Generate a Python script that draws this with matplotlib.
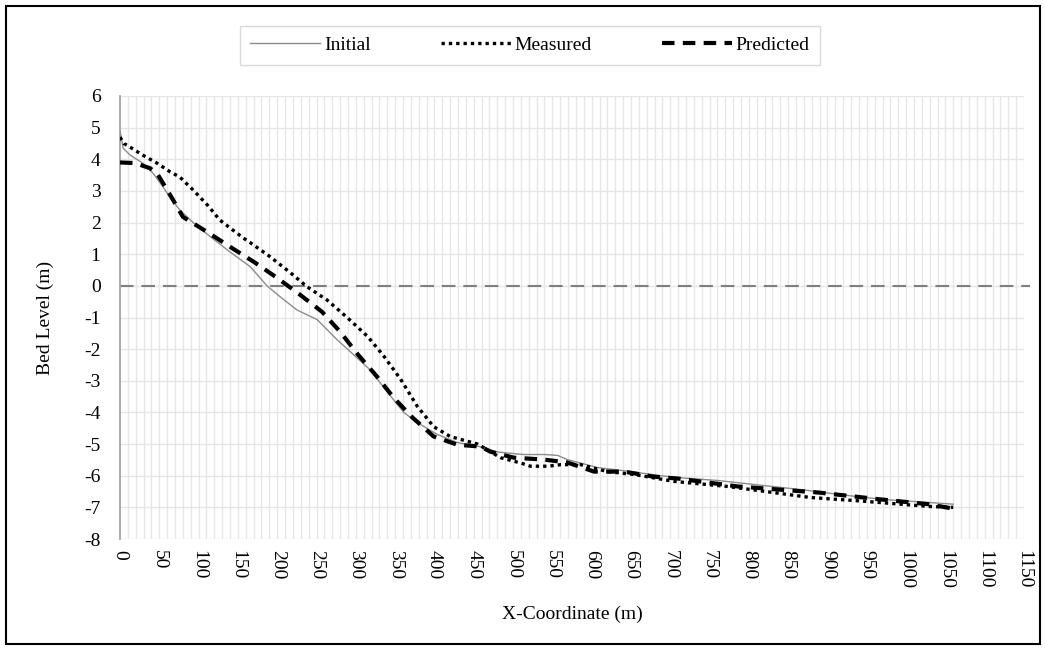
import matplotlib
matplotlib.use("Agg")
import matplotlib.pyplot as plt
from matplotlib.patches import Rectangle
from matplotlib.ticker import MultipleLocator

plt.rcParams['font.family'] = ['Liberation Serif', 'DejaVu Serif']
plt.rcParams['axes.unicode_minus'] = False

# ---------------- data ----------------
initial_x = [0, 4, 13, 29, 42, 55, 64, 76, 93, 115, 140, 166, 187, 204, 225, 251, 276,
             293, 318, 335, 348, 361, 378, 404, 429, 462, 480, 513, 540, 557, 569, 607,
             650, 688, 710, 760, 815, 870, 917, 970, 1020, 1060]
initial_y = [4.9, 4.35, 4.13, 3.88, 3.56, 3.12, 2.78, 2.4, 2.0, 1.55, 1.07, 0.6, 0.0, -0.35,
             -0.76, -1.07, -1.7, -2.08, -2.65, -3.19, -3.6, -4.0, -4.32, -4.7, -4.95, -5.1,
             -5.25, -5.33, -5.33, -5.36, -5.49, -5.74, -5.87, -6.0, -6.06, -6.15, -6.3,
             -6.45, -6.6, -6.75, -6.83, -6.9]

measured_x = [0, 5, 15, 29, 47, 64, 76, 93, 111, 127, 140, 157, 166, 191, 217, 238, 263,
              289, 315, 335, 357, 378, 399, 420, 455, 484, 510, 522, 544, 561, 586, 620,
              654, 705, 773, 879, 943, 1028, 1060]
measured_y = [4.7, 4.5, 4.35, 4.13, 3.88, 3.6, 3.44, 3.03, 2.56, 2.08, 1.83, 1.51, 1.36, 0.92,
              0.41, -0.03, -0.44, -1.0, -1.6, -2.2, -2.95, -3.8, -4.45, -4.76, -5.0, -5.43,
              -5.6, -5.7, -5.7, -5.65, -5.65, -5.87, -5.96, -6.18, -6.34, -6.69, -6.8,
              -6.97, -7.0]

predicted_x = [0, 19, 38, 47, 60, 66, 80, 111, 144, 172, 200, 229, 257, 280, 303, 327, 348,
               372, 399, 429, 459, 471, 501, 539, 569, 603, 641, 679, 710, 786, 888, 968,
               1028, 1062]
predicted_y = [3.9, 3.88, 3.72, 3.56, 3.03, 2.78, 2.18, 1.7, 1.17, 0.73, 0.25, -0.28, -0.82,
               -1.45, -2.18, -2.87, -3.53, -4.16, -4.76, -5.02, -5.08, -5.24, -5.43, -5.49,
               -5.58, -5.87, -5.87, -6.03, -6.09, -6.34, -6.53, -6.75, -6.9, -7.05]

zero_x = [0, 1157]
zero_y = [0, 0]

x_ticks = list(range(0, 1151, 50))
y_ticks = list(range(-8, 7, 1))

# ---------------- figure ----------------
W, H = 1045, 648
fig = plt.figure(figsize=(W / 100, H / 100), dpi=100)
ax = fig.add_axes([120 / W, (H - 539) / H, (1024 - 120) / W, (539 - 96) / H])

ax.set_xlim(0, 1150)
ax.set_ylim(-8, 6)
ax.set_xticks(x_ticks)
ax.set_yticks(y_ticks)
ax.xaxis.set_minor_locator(MultipleLocator(10))

ax.grid(True, which='both', axis='x', color='#e6e6e6', lw=1.0)
ax.grid(True, which='major', axis='y', color='#e6e6e6', lw=1.0)
ax.set_axisbelow(True)

for s in ['top', 'right', 'bottom']:
    ax.spines[s].set_visible(False)
ax.spines['left'].set_color('#a6a6a6')
ax.spines['left'].set_linewidth(1.3)

ax.tick_params(axis='both', which='both', length=0, labelsize=14)
ax.tick_params(axis='y', pad=14)
ax.tick_params(axis='x', pad=8)
ax.set_xticklabels([str(t) for t in x_ticks], rotation=270, va='top', ha='center')

ax.plot(zero_x, zero_y, color='#7f7f7f', lw=1.5, linestyle=(0, (6.5, 3.8)),
        clip_on=False, zorder=2)
ax.plot(initial_x, initial_y, color='#8c8c8c', lw=1.0, label='Initial', zorder=3)
ax.plot(measured_x, measured_y, color='black', lw=2.4, linestyle=(0, (1.0, 1.2)),
        label='Measured', zorder=4)
ax.plot(predicted_x, predicted_y, color='black', lw=3.0, linestyle=(0, (3.0, 2.0)),
        label='Predicted', zorder=5)

ax.set_ylabel('Bed Level (m)', fontsize=14, labelpad=22)
ax.set_xlabel('X-Coordinate (m)', fontsize=14, labelpad=12)

leg = fig.legend(loc='center', bbox_to_anchor=(530 / W, (H - 45) / H), ncol=3,
                 fontsize=14, frameon=True, fancybox=False, handlelength=3.6,
                 columnspacing=3.6, handletextpad=0.2, borderpad=0.55,
                 borderaxespad=0)
leg.get_frame().set_edgecolor('#d0d0d0')
leg.get_frame().set_linewidth(1.0)

fig.patches.append(Rectangle((6 / W, 4 / H), (1040 - 6) / W, (642 - 4) / H,
                             transform=fig.transFigure, fill=False,
                             edgecolor='black', lw=1.5))

fig.savefig('out.png', dpi=100)
